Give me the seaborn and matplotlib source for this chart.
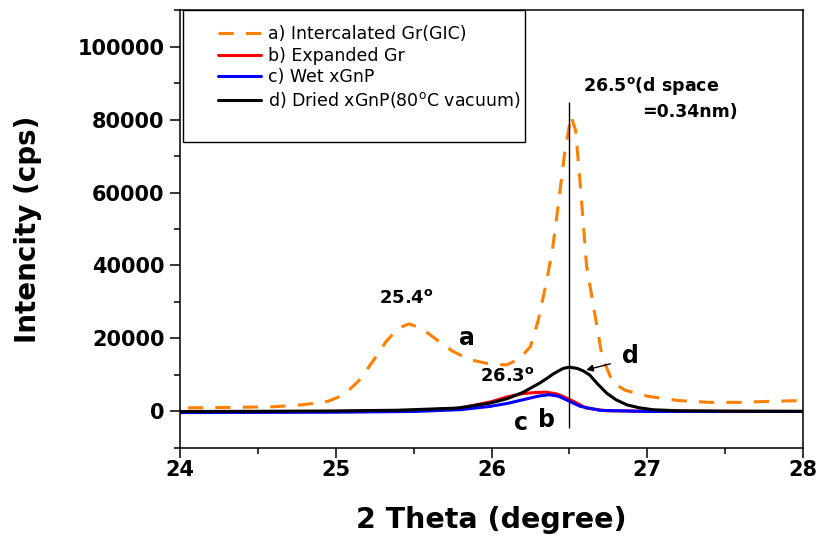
import matplotlib
matplotlib.use('Agg')
import matplotlib.pyplot as plt
import matplotlib.patches as patches
from matplotlib.ticker import MultipleLocator
import seaborn as sns

# XRD scans (2 theta in degree, intensity in cps)
gic_theta = [24.05, 24.3, 24.6, 24.8, 24.95, 25.05, 25.15, 25.25, 25.32, 25.4, 25.47, 25.55,
             25.65, 25.75, 25.86, 26.0, 26.1, 26.18, 26.25, 26.30, 26.35, 26.39, 26.43, 26.47,
             26.51, 26.54, 26.57, 26.61, 26.65, 26.71, 26.78, 26.86, 26.93, 27.0, 27.08, 27.2,
             27.4, 27.6, 27.8, 28.0]
gic_int = [1000, 1100, 1300, 1900, 2800, 4500, 8500, 14500, 19000, 22800, 24000, 22800,
           19600, 16500, 14200, 12900, 12800, 14500, 17800, 25000, 35000, 44000, 57000, 71000,
           81000, 77000, 62000, 40000, 30000, 15000, 7800, 5800, 5000, 4200, 3700, 3000,
           2500, 2500, 2800, 3000]

exp_theta = [24.0, 25.0, 25.5, 25.8, 26.0, 26.1, 26.2, 26.28, 26.35, 26.42, 26.46, 26.53,
             26.61, 26.74, 27.0, 28.0]
exp_int = [-100, 0, 300, 900, 2700, 4000, 4900, 5200, 5300, 4800, 4100, 2700,
           900, 200, 100, 0]

wet_theta = [24.0, 25.0, 25.5, 25.8, 25.99, 26.1, 26.2, 26.3, 26.37, 26.43, 26.48, 26.57,
             26.7, 27.0, 28.0]
wet_int = [-300, -200, 0, 500, 1400, 2200, 3200, 4200, 4600, 4200, 3200, 1400,
           300, 0, 0]

dry_theta = [24.0, 24.5, 25.0, 25.4, 25.78, 25.99, 26.1, 26.2, 26.31, 26.36, 26.4, 26.46,
             26.5, 26.55, 26.59, 26.63, 26.68, 26.74, 26.8, 26.87, 26.95, 27.04, 27.2,
             27.5, 28.0]
dry_int = [0, 50, 150, 350, 930, 2300, 3500, 5200, 7800, 9200, 10400, 11800,
           12150, 11800, 11100, 10000, 7600, 5000, 3200, 1800, 1000, 470, 200,
           100, 50]

labels = ['a) Intercalated Gr(GIC)', 'b) Expanded Gr', 'c) Wet xGnP',
          'd) Dried xGnP(80$^{\\rm o}$C vacuum)']

# 26.5 degree reference line
ref_theta = 26.5
ref_low, ref_high = -4500, 84900

sns.set_style('ticks')
plt.rcParams['font.family'] = ['DejaVu Sans']
plt.rcParams['text.color'] = 'black'
plt.rcParams['axes.labelcolor'] = 'black'
plt.rcParams['xtick.color'] = 'black'
plt.rcParams['ytick.color'] = 'black'

fig = plt.figure(figsize=(8.19, 5.38), dpi=100)
ax = fig.add_axes([0.2198, 0.1673, 0.7607, 0.8141])

sns.lineplot(x=gic_theta, y=gic_int, ax=ax, color='#ff8000', lw=2.2,
             label=labels[0], sort=False)
ax.lines[-1].set_linestyle((0, (5, 4)))
sns.lineplot(x=exp_theta, y=exp_int, ax=ax, color='red', lw=2.2, label=labels[1], sort=False)
sns.lineplot(x=wet_theta, y=wet_int, ax=ax, color='blue', lw=2.2, label=labels[2], sort=False)
sns.lineplot(x=dry_theta, y=dry_int, ax=ax, color='black', lw=2.2, label=labels[3], sort=False)

ax.vlines(ref_theta, ref_low, ref_high, color='black', lw=1)

ax.set_xlim(24, 28)
ax.set_ylim(-10000, 110000)
ax.xaxis.set_major_locator(MultipleLocator(1))
ax.xaxis.set_minor_locator(MultipleLocator(0.5))
ax.yaxis.set_major_locator(MultipleLocator(20000))
ax.yaxis.set_minor_locator(MultipleLocator(10000))
ax.tick_params(which='major', direction='out', length=7, width=1.1, labelsize=15, pad=2)
ax.tick_params(which='minor', direction='out', length=4, width=1.1)
ax.tick_params(axis='y', pad=4)
for lab in ax.get_xticklabels() + ax.get_yticklabels():
    lab.set_fontweight('bold')
for sp in ax.spines.values():
    sp.set_linewidth(1.1)
    sp.set_color('black')

ax.set_xlabel('2 Theta (degree)', fontsize=20.5, fontweight='bold')
ax.set_ylabel('Intencity (cps)', fontsize=20, fontweight='bold')
ax.xaxis.set_label_coords(0.5, -0.132)
ax.yaxis.set_label_coords(-0.2215, 0.5)

# legend, framed by a plain box
leg = ax.legend(loc='upper left', bbox_to_anchor=(0.0465, 0.986), frameon=False,
                fontsize=12.5, handlelength=2.5, handletextpad=0.4, borderpad=0,
                labelspacing=0.22)
ax.add_patch(patches.Rectangle((0.004, 0.699), 0.55, 0.301, transform=ax.transAxes,
                               fill=False, edgecolor='black', lw=1, zorder=5))

# annotations
ax.text(25.45, 31100, '25.4$^{\\mathbf{o}}$', ha='center', va='center',
        fontsize=13, fontweight='bold')
ax.text(25.84, 20200, 'a', ha='center', va='center', fontsize=17, fontweight='bold')
ax.text(26.10, 9600, '26.3$^{\\mathbf{o}}$', ha='center', va='center',
        fontsize=13, fontweight='bold')
ax.text(26.89, 15300, 'd', ha='center', va='center', fontsize=17, fontweight='bold')
ax.annotate('', xy=(26.59, 11200), xytext=(26.78, 13250),
            arrowprops=dict(arrowstyle='-|>', color='black', lw=1, mutation_scale=10))
ax.text(26.35, -2300, 'b', ha='center', va='center', fontsize=17, fontweight='bold')
ax.text(26.19, -3100, 'c', ha='center', va='center', fontsize=17, fontweight='bold')
ax.text(26.59, 89200, '26.5$^{\\mathbf{o}}$(d space', ha='left', va='center',
        fontsize=12.5, fontweight='bold')
ax.text(26.97, 82100, '=0.34nm)', ha='left', va='center', fontsize=12.5, fontweight='bold')

fig.savefig('out.png', dpi=100)
